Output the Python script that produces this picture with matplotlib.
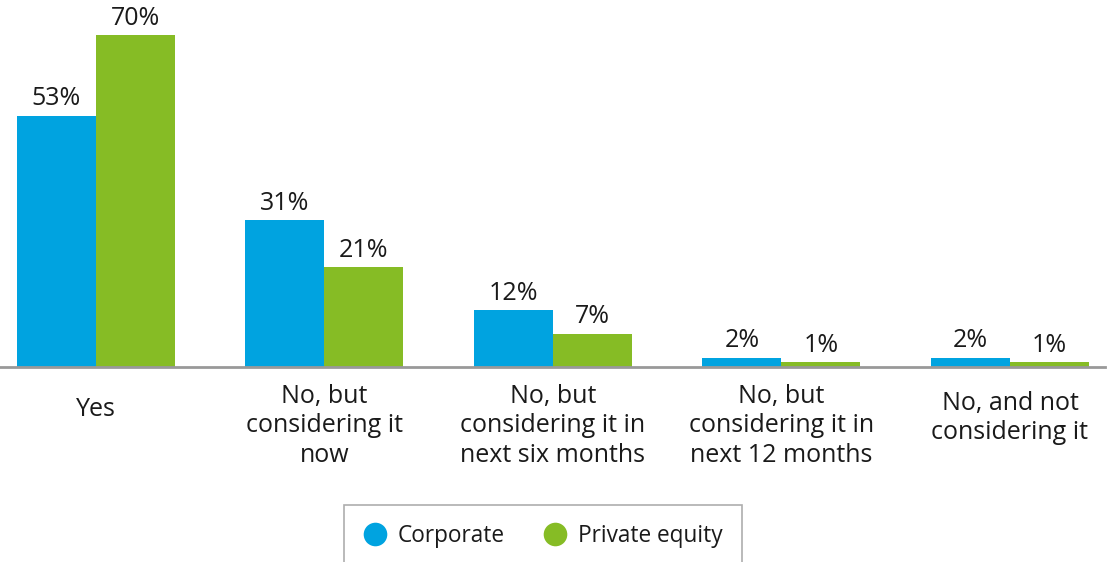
import numpy as np
import matplotlib.pyplot as plt
import matplotlib.transforms as mtransforms
from matplotlib.lines import Line2D

plt.rcParams['font.family'] = ['Open Sans', 'DejaVu Sans']

# survey answers and shares per respondent group
categories = ['Yes',
              'No, but\nconsidering it\nnow',
              'No, but\nconsidering it in\nnext six months',
              'No, but\nconsidering it in\nnext 12 months',
              'No, and not\nconsidering it']
corporate = [53, 31, 12, 2, 2]
private_equity = [70, 21, 7, 1, 1]
series_names = ['Corporate', 'Private equity']

blue = '#00A3E0'
green = '#86BC25'
text_color = '#1a1a1a'

W, H = 1119, 562
fig = plt.figure(figsize=(W / 100, H / 100), dpi=100)
ax = fig.add_axes([0, 195 / H, 1105 / W, 357 / H])

x = np.arange(len(categories))
width = 0.3457
b1 = ax.bar(x - width / 2, corporate, width, color=blue, linewidth=0)
b2 = ax.bar(x + width / 2, private_equity, width, color=green, linewidth=0)

for bars, vals in ((b1, corporate), (b2, private_equity)):
    for rect, v in zip(bars, vals):
        ax.annotate(f'{v}%', (rect.get_x() + rect.get_width() / 2, rect.get_height()),
                    xytext=(0, 7.5), textcoords='offset points',
                    ha='center', va='baseline', fontsize=18, color=text_color)

ax.set_xlim(-0.42, 4.416)
ax.set_ylim(0, 75.27)
for s in ('top', 'right', 'left'):
    ax.spines[s].set_visible(False)
ax.spines['bottom'].set_color('#999999')
ax.spines['bottom'].set_linewidth(2)
ax.set_xticks([])
ax.set_yticks([])

# category labels under the axis, centred on each group
trans = mtransforms.blended_transform_factory(ax.transData, fig.transFigure)
for i, lab in enumerate(categories):
    n = lab.count('\n') + 1
    yc = 410 + 8 * (n - 1)
    ax.text(i, 1 - yc / H, lab, transform=trans, ha='center', va='center',
            fontsize=18, color=text_color, linespacing=1.25, clip_on=False)

handles = [Line2D([], [], marker='o', linestyle='none', markersize=17,
                  markerfacecolor=c, markeredgewidth=0) for c in (blue, green)]
leg = fig.legend(handles, series_names, loc='upper center',
                 bbox_to_anchor=(543 / W, 1 - 505 / H), ncol=2, frameon=True,
                 fancybox=False, fontsize=16.3, handletextpad=0.52, columnspacing=1.72,
                 borderpad=0.85, handlelength=1.0, borderaxespad=0)
leg.get_frame().set_edgecolor('#999999')
leg.get_frame().set_linewidth(1.2)
for t in leg.get_texts():
    t.set_color(text_color)

fig.savefig('out.png', dpi=100)
